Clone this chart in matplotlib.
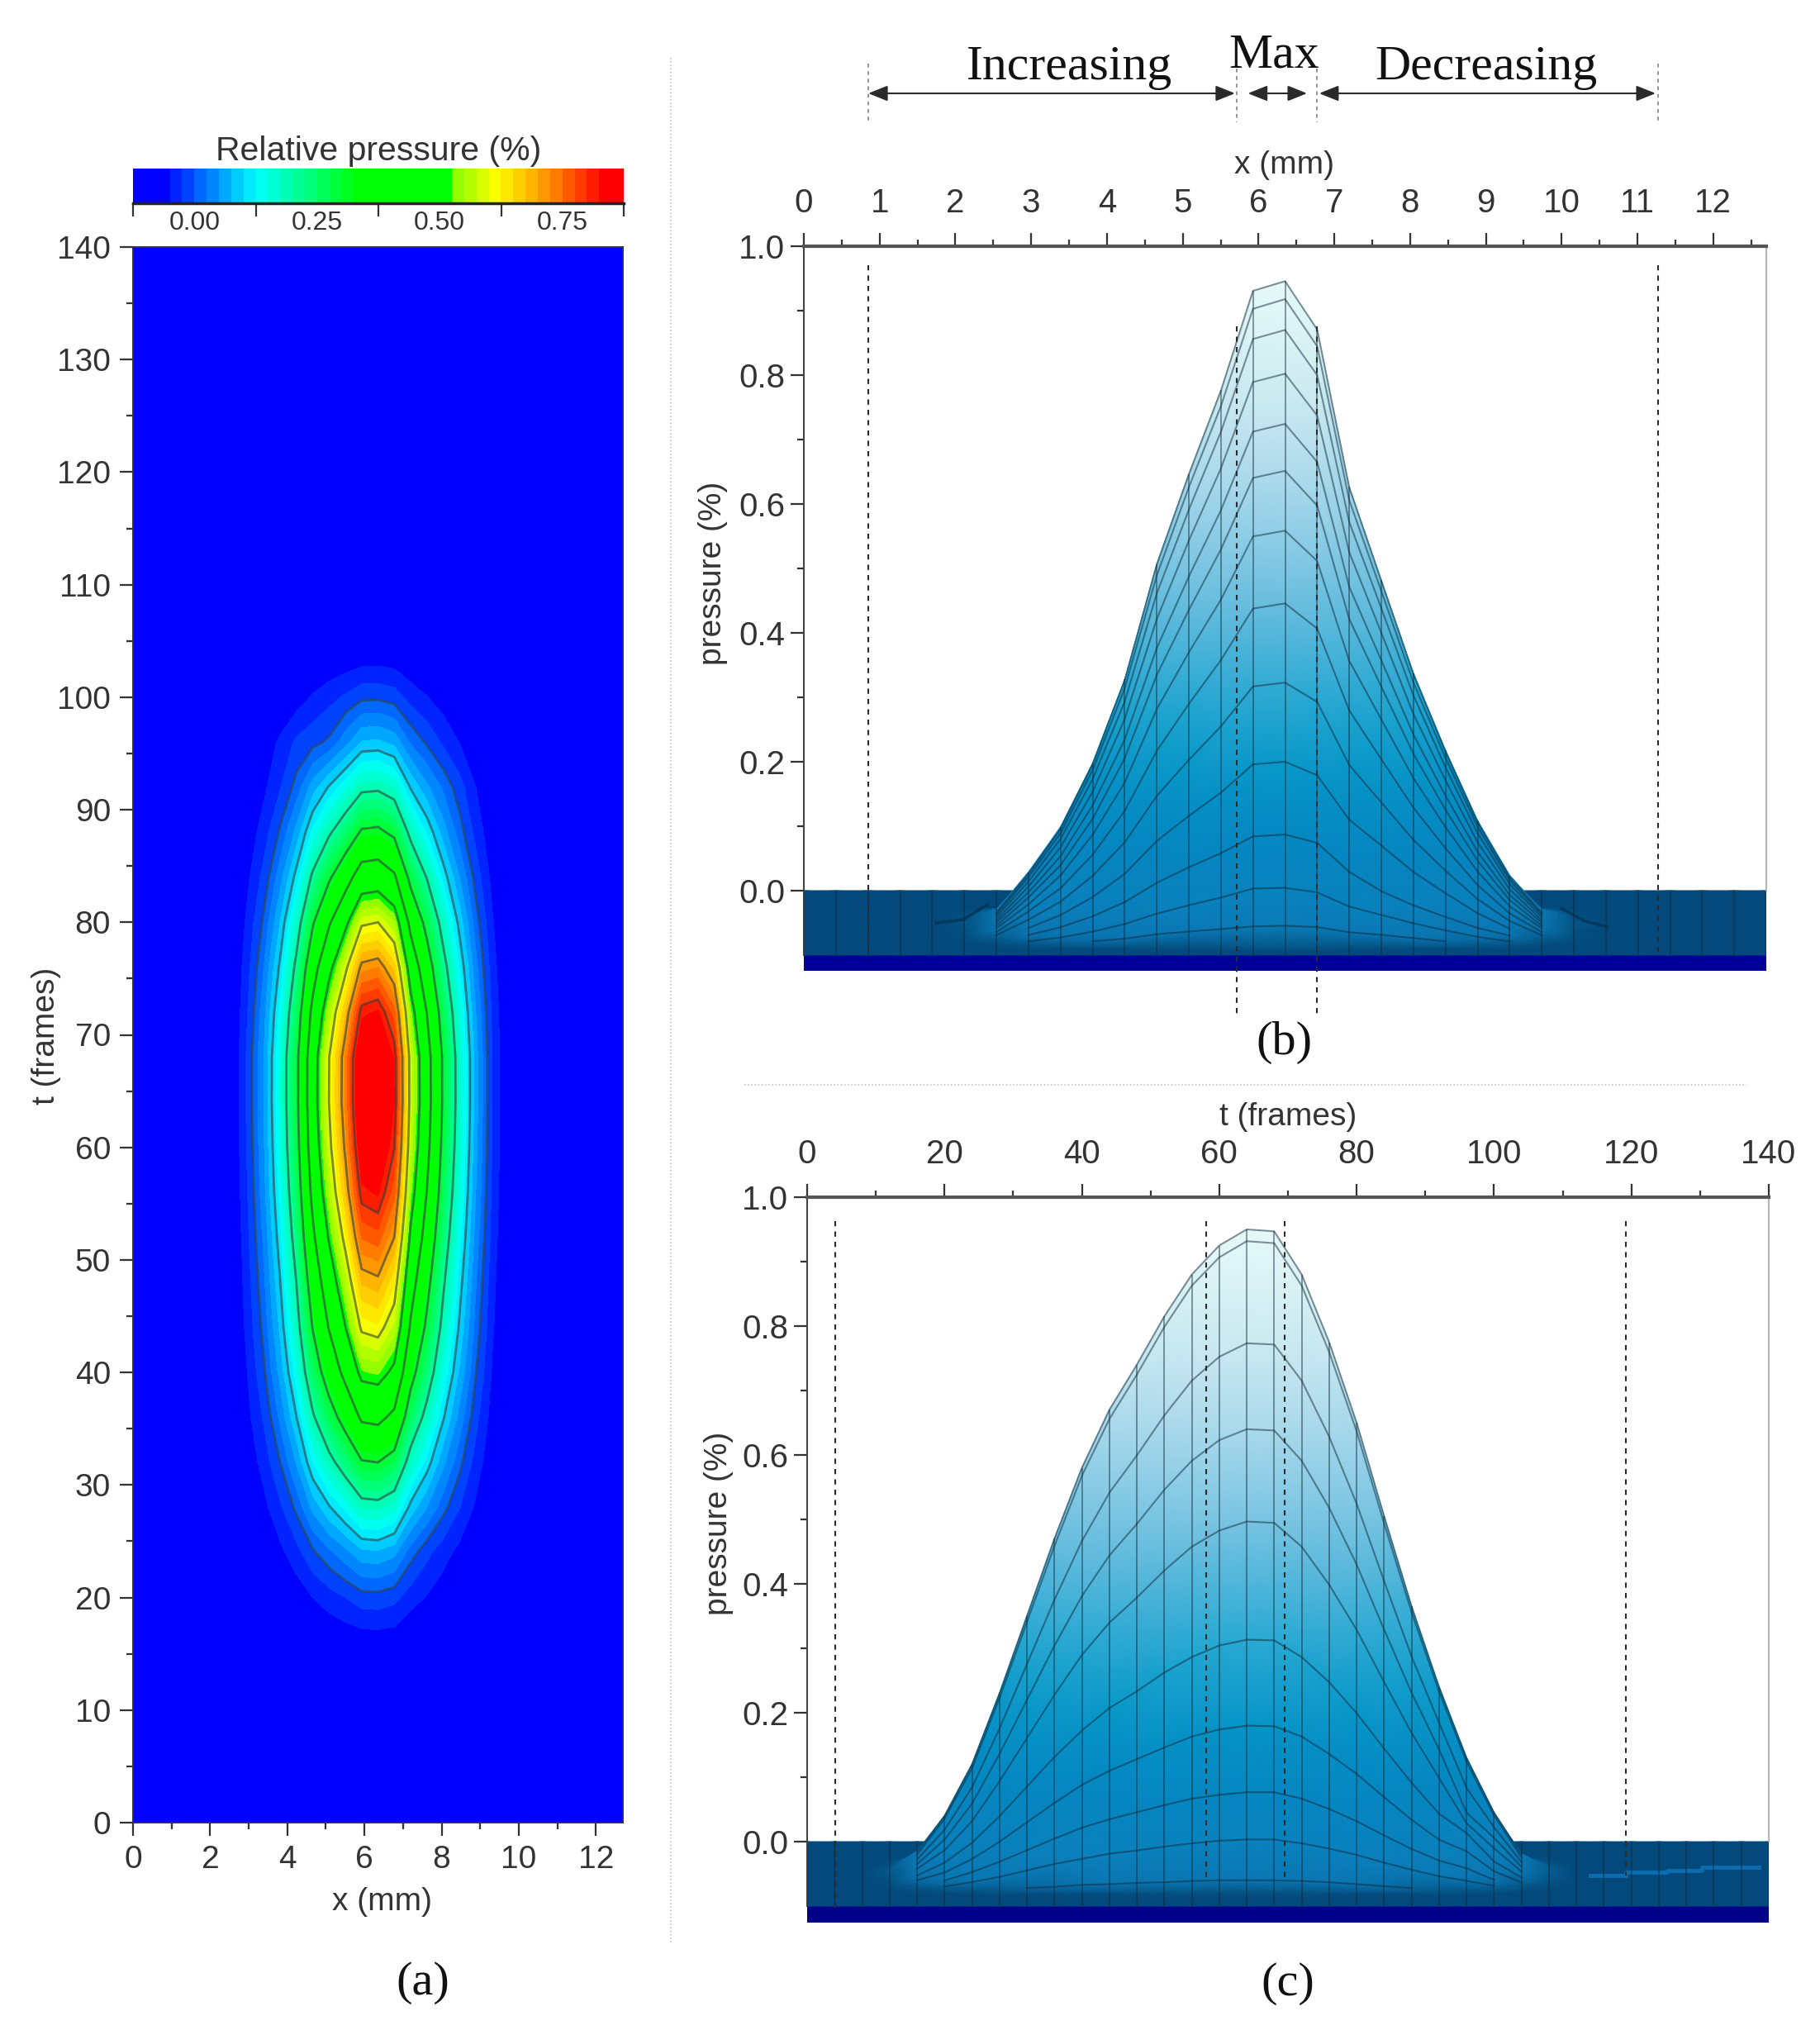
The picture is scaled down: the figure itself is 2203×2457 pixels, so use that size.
import numpy as np
import matplotlib
matplotlib.use("Agg")
import matplotlib.pyplot as plt
from matplotlib.colors import LinearSegmentedColormap, Normalize
from matplotlib.transforms import blended_transform_factory as blend

W, H = 2203, 2457
plt.rcParams['font.family'] = ['Liberation Sans', 'DejaVu Sans']

# ---------------------------------------------------------------- data
x_step = 12.7 / 30
x_grid = np.arange(31) * x_step           # mm, measuring columns
t_grid = np.arange(36) * 4.0              # frames
baseline = -0.10
inner_t = np.arange(12, 109, 4)           # rows
inner_col_first = 5                       # first column read

rows_t12_t28 = [
 [-.10,-.10,-.10,-.10,-.099,-.098,-.097,-.097,-.096,-.095,-.095,-.095,-.097,-.097,-.098,-.099,-.099,-.10,-.10,-.10],
 [-.10,-.099,-.097,-.094,-.09,-.086,-.079,-.075,-.071,-.067,-.066,-.068,-.076,-.08,-.085,-.09,-.094,-.097,-.099,-.10],
 [-.10,-.098,-.093,-.087,-.078,-.066,-.05,-.037,-.025,-.011,-.01,-.017,-.039,-.052,-.065,-.076,-.086,-.093,-.098,-.10],
 [-.10,-.097,-.086,-.074,-.057,-.035,-.005,.019,.041,.067,.07,.057,.012,-.018,-.04,-.058,-.075,-.087,-.097,-.099],
 [-.099,-.094,-.078,-.058,-.03,.006,.057,.096,.132,.176,.18,.159,.09,.05,.009,-.024,-.055,-.079,-.094,-.099],
]
rows_t32_t48 = [
 [-.099,-.092,-.068,-.04,0,.052,.124,.18,.232,.294,.30,.27,.172,.114,.056,.008,-.036,-.07,-.092,-.098],
 [-.098,-.09,-.058,-.022,.03,.098,.191,.264,.332,.412,.42,.381,.254,.178,.103,.04,-.017,-.061,-.09,-.098],
 [-.098,-.087,-.05,-.005,.058,.139,.253,.341,.423,.521,.53,.483,.328,.237,.146,.07,.001,-.053,-.087,-.097],
 [-.098,-.086,-.042,.008,.08,.174,.303,.404,.498,.609,.62,.566,.39,.285,.181,.094,.015,-.046,-.086,-.097],
 [-.098,-.084,-.037,.019,.098,.20,.342,.453,.556,.678,.69,.631,.437,.323,.208,.113,.026,-.041,-.084,-.097],
]
rows_t52_t68 = [
 [-.097,-.083,-.031,.03,.116,.229,.384,.506,.618,.752,.765,.70,.488,.363,.237,.134,.038,-.035,-.083,-.097],
 [-.097,-.081,-.026,.04,.133,.253,.421,.551,.672,.816,.83,.76,.532,.398,.263,.151,.049,-.03,-.081,-.096],
 [-.097,-.08,-.022,.046,.144,.271,.446,.583,.709,.86,.875,.802,.563,.422,.28,.163,.056,-.027,-.08,-.096],
 [-.097,-.08,-.02,.05,.15,.28,.46,.60,.73,.885,.90,.825,.58,.435,.29,.17,.06,-.025,-.08,-.096],
 [-.097,-.08,-.02,.05,.149,.279,.458,.598,.728,.882,.897,.822,.578,.433,.289,.169,.06,-.025,-.08,-.096],
]
rows_t72_t88 = [
 [-.097,-.081,-.026,.04,.133,.253,.421,.551,.672,.816,.83,.76,.532,.398,.263,.151,.049,-.03,-.081,-.096],
 [-.098,-.083,-.034,.024,.106,.214,.362,.478,.585,.713,.725,.663,.461,.341,.222,.123,.032,-.038,-.083,-.097],
 [-.098,-.086,-.044,.005,.075,.166,.292,.39,.481,.59,.60,.548,.376,.275,.173,.089,.012,-.047,-.086,-.097],
 [-.098,-.089,-.056,-.017,.039,.111,.211,.289,.361,.447,.455,.413,.277,.197,.116,.05,-.011,-.058,-.089,-.098],
 [-.099,-.092,-.067,-.038,.004,.058,.132,.191,.244,.309,.315,.284,.182,.122,.062,.012,-.034,-.069,-.092,-.098],
]
rows_t92_t108 = [
 [-.099,-.094,-.077,-.056,-.027,.01,.062,.103,.141,.186,.19,.168,.097,.055,.02,-.015,-.05,-.075,-.094,-.099],
 [-.10,-.096,-.084,-.068,-.045,-.02,-.008,.005,.04,.077,.08,.067,.022,-.004,-.03,-.051,-.071,-.086,-.096,-.099],
 [-.10,-.098,-.092,-.086,-.076,-.064,-.047,-.034,-.021,-.006,-.005,-.012,-.035,-.049,-.063,-.074,-.085,-.093,-.098,-.10],
 [-.10,-.10,-.098,-.096,-.093,-.089,-.083,-.079,-.075,-.071,-.07,-.072,-.08,-.085,-.088,-.092,-.095,-.098,-.099,-.10],
 [-.10,-.10,-.099,-.099,-.098,-.097,-.096,-.095,-.095,-.094,-.094,-.094,-.095,-.096,-.097,-.098,-.099,-.099,-.10,-.10],
]

# phase limits (a) -> (b) and (c)
phase_x = [0.85, 5.71, 6.77, 11.27]
phase_t = [4.1, 58.1, 69.5, 119.2]
arrow_spans = [(0.85, 5.69), (5.86, 6.64), (6.80, 11.24)]
phase_names = ['Increasing', 'Max', 'Decreasing']

# features of the floor read separately
floor_streak_x_left = [1.75, 2.1, 2.42]
floor_streak_y_left = [-.05, -.045, -.022]
floor_streak_x_right = [10.0, 10.3, 10.6]
floor_streak_y_right = [-.028, -.047, -.056]
floor_patch_t = [114, 119.2, 119.2, 125.2, 125.2, 130.2, 130.2, 138.5]
floor_patch_y = [-.052, -.052, -.048, -.048, -.045, -.045, -.04, -.04]

level_lines = [0, .1, .2, .3, .4, .5, .6, .7, .8]
cbar_edges = [-.125, .125, .375, .625, .875]
cbar_labels = ['0.00', '0.25', '0.50', '0.75']
a_x_major = [0, 2, 4, 6, 8, 10, 12]
a_t_major = list(range(0, 141, 10))
# ---------------------------------------------------------------- build field
inner = np.array(rows_t12_t28 + rows_t32_t48 + rows_t52_t68 + rows_t72_t88 + rows_t92_t108)
Z = np.full((t_grid.size, x_grid.size), baseline)
r0 = int(inner_t[0] / 4)
Z[r0:r0 + inner.shape[0], inner_col_first:inner_col_first + inner.shape[1]] = inner

fig = plt.figure(figsize=(W / 100, H / 100), dpi=100, facecolor='white')

def ax_px(l, r, t, b):
    return fig.add_axes([l / W, 1 - b / H, (r - l) / W, (b - t) / H])

def txt(px, py, s, **kw):
    kw.setdefault('ha', 'center')
    kw.setdefault('va', 'center')
    fig.text(px / W, 1 - py / H, s, **kw)

def fy(py):
    return 1 - py / H

# ---------------------------------------------------------------- (a)
stops = [(0, '#0000ff'), (.06, '#0000ff'), (.25, '#00ffff'), (.46, '#00ff00'),
         (.645, '#00ff00'), (.66, '#90ff00'), (.743, '#ffff00'), (.85, '#ff8c00'),
         (.96, '#ff0000'), (1, '#ff0000')]
jet_like = LinearSegmentedColormap.from_list('rel', stops, N=256)
jet_like.set_over('#ff0000')
jet_like.set_under('#0000ff')
rel_norm = Normalize(-.125, .875)

ax = ax_px(161, 754, 299, 2206)
levels = np.arange(-.125, .8751, .025)
cf = ax.contourf(x_grid, t_grid, Z, levels=levels, cmap=jet_like, norm=rel_norm, extend='both')
ax.contour(x_grid, t_grid, Z, levels=level_lines, colors=[(.2, .25, .25, .62)], linewidths=2.0)
ax.set_xlim(0, 12.7)
ax.set_ylim(0, 140)
ax.set_xticks(a_x_major)
ax.set_xticks(np.arange(1, 13, 2), minor=True)
ax.set_yticks(a_t_major)
ax.set_yticks(np.arange(5, 140, 10), minor=True)
ax.tick_params(which='major', length=11.5, width=1.6, labelsize=28, pad=8, color='#333333', labelcolor='#333333')
ax.tick_params(which='minor', length=6, width=1.6, color='#333333')
for s in ax.spines.values():
    s.set_linewidth(1.4)
    s.set_color('#333333')

cax = ax_px(161, 755, 204, 246)
band_mid = (levels[:-1] + levels[1:]) / 2
cax.pcolormesh(levels, [0, 1], band_mid[None, :], cmap=jet_like, norm=rel_norm)
cax.set_xlim(-.125, .875)
cax.set_ylim(0, 1)
cax.set_yticks([])
cax.set_xticks(cbar_edges)
cax.set_xticklabels([])
cax.tick_params(which='major', length=11.5, width=1.6, color='#333333')
for side in ('top', 'left', 'right'):
    cax.spines[side].set_visible(False)
cax.spines['bottom'].set_linewidth(2.5)
cax.spines['bottom'].set_color('#222222')
for e0, e1, lab in zip(cbar_edges[:-1], cbar_edges[1:], cbar_labels):
    cax.text((e0 + e1) / 2, -.58, lab, ha='center', va='center', fontsize=23,
             color='#333333', transform=blend(cax.transData, cax.transAxes))

# ---------------------------------------------------------------- surfaces
surf_stops_z = [-.10, -.097, -.088, -.05, .07, .17, .27, .37, .47, .57, .67, .77, .92]
surf_cols = ['#03497c', '#045282', '#0a74b0', '#0a80bc', '#0488c2', '#0797c8', '#25a8d2',
             '#56b6da', '#7cc5e2', '#a0d5ea', '#c0e2ee', '#d2eff2', '#eafafa']
zmin, zmax = surf_stops_z[0], surf_stops_z[-1]
surf_cmap = LinearSegmentedColormap.from_list(
    'surf', [((v - zmin) / (zmax - zmin), c) for v, c in zip(surf_stops_z, surf_cols)], N=1024)
line_col = (.06, .16, .22, .5)


def style_surface_axes(axs, major, minor):
    axs.xaxis.tick_top()
    axs.set_xticks(major)
    axs.set_xticks(minor, minor=True)
    axs.set_yticks(np.arange(0, 1.01, .2))
    axs.set_yticks(np.arange(.1, 1, .2), minor=True)
    axs.tick_params(which='major', length=11.5, width=1.6, labelsize=29, color='#333333', labelcolor='#333333')
    axs.tick_params(axis='x', which='major', pad=12)
    axs.tick_params(axis='y', which='major', pad=5)
    axs.tick_params(which='minor', length=6, width=1.6, color='#333333')
    axs.spines['bottom'].set_visible(False)
    axs.spines['top'].set_linewidth(3)
    axs.spines['top'].set_color('#555555')
    axs.spines['left'].set_color('#444444')
    axs.spines['left'].set_linewidth(1.5)
    axs.spines['left'].set_bounds(-.1, 1)
    axs.spines['right'].set_color('#b5b5b5')
    axs.spines['right'].set_linewidth(1.5)
    axs.spines['right'].set_bounds(0, 1)
    axs.set_facecolor('none')

# ---------------------------------------------------------------- (b)
axb = ax_px(973, 2138, 298, 1175)
TT, XX = np.meshgrid(t_grid, x_grid, indexing='ij')
Yb = Z + TT / 1400
# far rows first, so that nearer rows cover them
axb.axhspan(-.1244, -.098, color='#000098', lw=0, zorder=1)
axb.pcolormesh(XX[::-1], Yb[::-1], Z[::-1], shading='gouraud', cmap=surf_cmap,
               vmin=zmin, vmax=zmax, zorder=2, rasterized=True)
axb.set_xlim(0, 12.7)
axb.set_ylim(-.1244, 1.0)
axb.plot(floor_streak_x_left, floor_streak_y_left, color='#02314f', lw=2.5, alpha=.7, zorder=3)
axb.plot(floor_streak_x_right, floor_streak_y_right, color='#02314f', lw=2.5, alpha=.7, zorder=3)
top_b = Yb.max(axis=0)
axb.vlines(x_grid, -.102, top_b, color=line_col, lw=1.3, zorder=4)
for j, tv in enumerate(t_grid):
    if 12 <= tv <= 64:
        mask = Z[j] > -.094
        yy = np.where(mask, Yb[j], np.nan)
        axb.plot(x_grid, yy, color=line_col, lw=1.5, zorder=4)
style_surface_axes(axb, np.arange(0, 13), np.arange(.5, 12.6, 1))

# ---------------------------------------------------------------- (c)
axc = ax_px(977, 2141, 1449, 2327)
Yc = Z + XX / 127
axc.axhspan(-.1256, -.098, color='#000088', lw=0, zorder=1)
axc.pcolormesh(TT.T[::-1], Yc.T[::-1], Z.T[::-1], shading='gouraud', cmap=surf_cmap,
               vmin=zmin, vmax=zmax, zorder=2, rasterized=True)
axc.set_xlim(0, 140)
axc.set_ylim(-.1256, 1.0)
axc.plot(floor_patch_t, floor_patch_y, color='#0a6db0', lw=3.5, zorder=3)
top_c = Yc.max(axis=1)
axc.vlines(t_grid, -.102, top_c, color=line_col, lw=1.3, zorder=4)
for i, xv in enumerate(x_grid):
    if 5 <= i <= 15:
        mask = Z[:, i] > -.094
        yy = np.where(mask, Yc[:, i], np.nan)
        axc.plot(t_grid, yy, color=line_col, lw=1.5, zorder=4)
style_surface_axes(axc, np.arange(0, 141, 20), np.arange(10, 140, 20))

# ---------------------------------------------------------------- phase markers
dash = (0, (3, 3))
tr_b = blend(axb.transData, fig.transFigure)
tr_c = blend(axc.transData, fig.transFigure)
spans_b = [(321, 1157), (395, 1228), (395, 1228), (321, 1157)]
spans_top = [(77, 148), (83, 148), (83, 148), (77, 148)]
for xv, (p0, p1), (q0, q1) in zip(phase_x, spans_b, spans_top):
    for a0, a1, lw, col in ((p0, p1, 1.5, '#2a2a2a'), (q0, q1, 1.1, '#777777')):
        axb.plot([xv, xv], [fy(a0), fy(a1)], transform=tr_b, clip_on=False,
                 color=col, lw=lw, ls=dash, zorder=6)
spans_c = [(1478, 2310), (1478, 2272), (1478, 2272), (1478, 2270)]
for tv, (p0, p1) in zip(phase_t, spans_c):
    axc.plot([tv, tv], [fy(p0), fy(p1)], transform=tr_c, clip_on=False,
             color='#2a2a2a', lw=1.5, ls=dash, zorder=6)
for x0, x1 in arrow_spans:
    axb.annotate('', xy=(x1, fy(113)), xytext=(x0, fy(113)), xycoords=tr_b, textcoords=tr_b,
                 annotation_clip=False,
                 arrowprops=dict(arrowstyle='<|-|>,head_length=.75,head_width=.3', color='#2a2a2a',
                                 lw=1.5, shrinkA=0, shrinkB=0, mutation_scale=19))

# ---------------------------------------------------------------- separators
fig.add_artist(plt.Line2D([812 / W, 812 / W], [fy(70), fy(2353)], color='#c4c4c4', lw=1.2, ls=(0, (1, 1.5))))
fig.add_artist(plt.Line2D([901 / W, 2114 / W], [fy(1313), fy(1313)], color='#c4c4c4', lw=1.2, ls=(0, (1, 1.5))))

# ---------------------------------------------------------------- text
grey = '#333333'
serif = 'Liberation Serif'
txt(458, 183, 'Relative pressure (%)', fontsize=29.5, color=grey)
txt(56, 1254, 't (frames)', fontsize=28, rotation=90, color=grey)
txt(462, 2302, 'x (mm)', fontsize=28, color=grey)
txt(1555, 200, 'x (mm)', fontsize=28, color=grey)
txt(1559, 1352, 't (frames)', fontsize=28, color=grey)
txt(863, 694, 'pressure (%)', fontsize=28, rotation=90, color=grey)
txt(870, 1844, 'pressure (%)', fontsize=28, rotation=90, color=grey)
for (px, py), name in zip([(1294, 82), (1542, 67), (1799, 82)], phase_names):
    txt(px, py, name, fontsize=43, family=serif, color='#111111')
txt(512, 2400, '(a)', fontsize=42, family=serif, color='#111111')
txt(1554, 1262, '(b)', fontsize=42, family=serif, color='#111111')
txt(1559, 2401, '(c)', fontsize=42, family=serif, color='#111111')

fig.savefig('out.png', dpi=100, facecolor='white')
